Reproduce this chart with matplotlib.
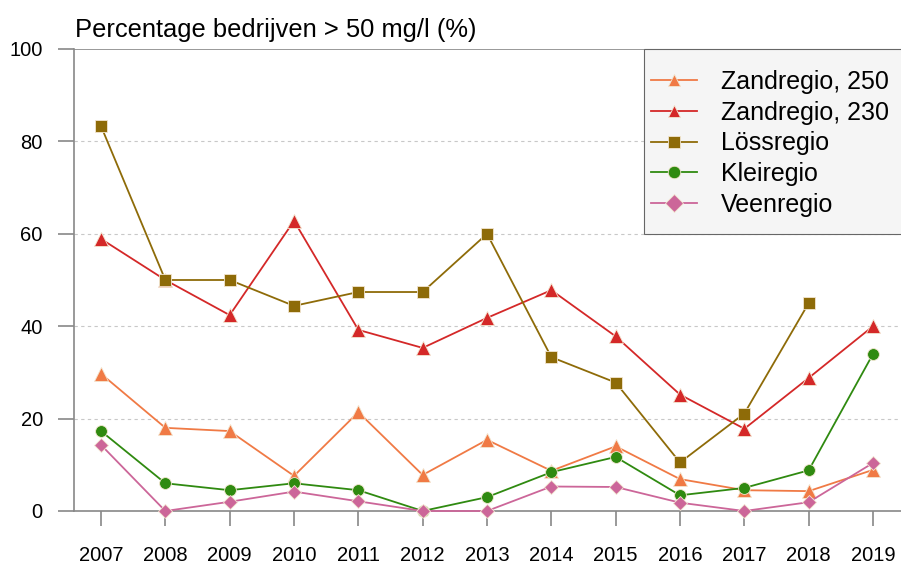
import numpy as np
import matplotlib.pyplot as plt
from matplotlib.patches import Rectangle

plt.rcParams['font.family'] = ['Liberation Sans', 'DejaVu Sans']

years = [2007, 2008, 2009, 2010, 2011, 2012, 2013, 2014, 2015, 2016, 2017, 2018, 2019]

zand_250 = [29.7, 18.0, 17.3, 7.6, 21.4, 7.8, 15.4, 8.7, 14.0, 6.9, 4.5, 4.3, 8.9]
zand_230 = [58.9, 50.0, 42.4, 62.8, 39.2, 35.3, 41.8, 47.8, 37.8, 25.2, 17.8, 28.8, 40.0]
loss = [83.3, 50.0, 50.0, 44.4, 47.4, 47.4, 60.0, 33.3, 27.8, 10.5, 21.1, 45.0, np.nan]
klei = [17.3, 6.0, 4.5, 6.0, 4.5, 0.0, 3.0, 8.4, 11.7, 3.4, 5.0, 8.8, 34.0]
veen = [14.3, 0.0, 2.0, 4.2, 2.1, 0.0, 0.0, 5.3, 5.2, 1.8, 0.0, 1.9, 10.4]

series = [
    ('Zandregio, 250', zand_250, '#F07A45', '^', 10),
    ('Zandregio, 230', zand_230, '#D42828', '^', 10),
    ('Lössregio', loss, '#8E6B08', 's', 8.5),
    ('Kleiregio', klei, '#2F8A10', 'o', 8.5),
    ('Veenregio', veen, '#CC6699', 'D', 7.5),
]

W, H = 901, 568
fig = plt.figure(figsize=(W / 100, H / 100), dpi=100)
ax = fig.add_axes([74 / W, 57 / H, 827 / W, 462 / H])

for label, vals, col, mk, ms in series:
    ax.plot(years, vals, color=col, marker=mk, markersize=ms, lw=1.3,
            markeredgecolor='#f3e6d0', markeredgewidth=0.6, label=label,
            clip_on=False, zorder=3)

ax.set_xlim(2006.58, 2019.435)
ax.set_ylim(0, 100)
ax.set_xticks(years)
ax.set_yticks([0, 20, 40, 60, 80, 100])
for g in [20, 40, 60, 80]:
    ax.axhline(g, color='#c8c8c8', linestyle=(0, (3, 3)), lw=0.8, zorder=1)
ax.axhline(100, color='#888888', lw=1.2, zorder=1)

for s in ['top', 'right']:
    ax.spines[s].set_visible(False)
for s in ['left', 'bottom']:
    ax.spines[s].set_color('#888888')
    ax.spines[s].set_linewidth(1.2)
ax.tick_params(axis='both', colors='#888888', labelcolor='black', labelsize=14.5,
               width=1.2)
ax.tick_params(axis='x', length=11, pad=14)
ax.tick_params(axis='y', length=11.5, pad=11)

fig.text(75 / W, 1 - 37 / H, 'Percentage bedrijven > 50 mg/l (%)', fontsize=18.4,
         va='baseline', ha='left')

# legend box drawn separately so its size matches the original
box = Rectangle((644 / W, 1 - 234 / H), 260 / W, 185 / H, transform=fig.transFigure,
                facecolor='#f5f5f5', edgecolor='#666666', lw=0.8, clip_on=False,
                zorder=4)
ax.add_patch(box)

leg = ax.legend(loc='upper left', bbox_to_anchor=(651 / W, 1 - 70 / H),
                bbox_transform=fig.transFigure, fontsize=18, frameon=False,
                borderpad=0, borderaxespad=0, handlelength=1.85,
                labelspacing=0.27, handletextpad=0.96)
leg.set_zorder(5)
for h in leg.legend_handles:
    h.set_markersize(9)

fig.savefig('out.png', dpi=100)
